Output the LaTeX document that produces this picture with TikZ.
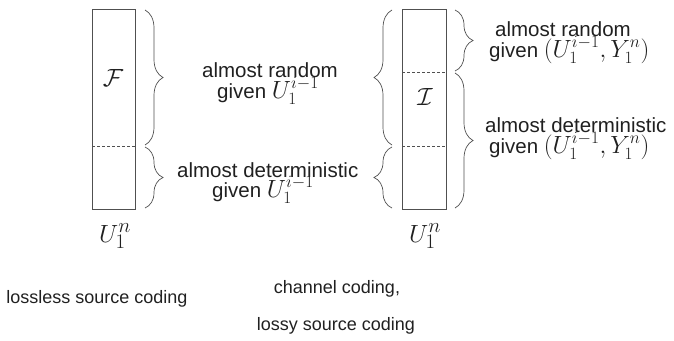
\documentclass[tikz,border=0pt]{standalone}
\usepackage{fontspec}
\setmainfont{Liberation Sans}
\usetikzlibrary{decorations.pathreplacing}
\definecolor{ln}{HTML}{505050}
\definecolor{tx}{HTML}{202020}
\newcommand\mth[1]{{\fontsize{25.5}{28}\selectfont$#1$}}
\tikzset{
  box/.style={draw=ln, line width=0.8pt},
  sep/.style={draw=ln, line width=0.6pt, dash pattern=on 3pt off 2pt},
  brc/.style={draw=ln, line width=0.7pt, decorate, decoration={brace, amplitude=18pt}},
  lbl/.style={anchor=base west, inner sep=0pt, text=tx, font=\fontsize{20.5}{24}\selectfont},
  blbl/.style={anchor=base, inner sep=0pt, text=tx, font=\fontsize{18}{22}\selectfont},
  big/.style={anchor=base, inner sep=0pt, text=tx, font=\fontsize{28}{32}\selectfont}
}
\begin{document}
\begin{tikzpicture}[x=1pt,y=-1pt]
\useasboundingbox (0,0) rectangle (674,340);
% left column
\draw[box] (92,9) rectangle (135,209);
\coordinate (la) at (92,146); \coordinate (lb) at (135,146);
\draw[sep] (la) -- (lb);
\node[big] (F) at (113,86) {$\mathcal{F}$};
\node[big] (U1) at (115,242) {$U_1^n$};
\coordinate (b1s) at (145,10); \coordinate (b1e) at (145,145);
\coordinate (b2s) at (145,147); \coordinate (b2e) at (145,208);
\draw[brc] (b1s) -- (b1e);
\draw[brc] (b2s) -- (b2e);
\node[lbl] (t1) at (202,77) {almost random};
\node[lbl] (t2) at (217,98) {given \mth{U_1^{i-1}}};
\node[lbl] (t3) at (177,177) {almost deterministic};
\node[lbl] (t4) at (212,197) {given \mth{U_1^{i-1}}};
% right column
\draw[box] (402,9) rectangle (446,209);
\coordinate (ra) at (402,72); \coordinate (rb) at (446,72);
\coordinate (rc) at (402,146); \coordinate (rd) at (446,146);
\draw[sep] (ra) -- (rb);
\draw[sep] (rc) -- (rd);
\node[big] (I) at (425,105) {$\mathcal{I}$};
\node[big] (U2) at (425,242) {$U_1^n$};
\coordinate (c1s) at (392,145); \coordinate (c1e) at (392,10);
\coordinate (c2s) at (392,208); \coordinate (c2e) at (392,147);
\draw[brc] (c1s) -- (c1e);
\draw[brc] (c2s) -- (c2e);
\coordinate (d1s) at (455,10); \coordinate (d1e) at (455,71);
\coordinate (d2s) at (455,73); \coordinate (d2e) at (455,208);
\draw[brc] (d1s) -- (d1e);
\draw[brc] (d2s) -- (d2e);
\node[lbl] (s1) at (495,36) {almost random};
\node[lbl] (s2) at (489,57) {given \mth{(U_1^{i-1},Y_1^n)}};
\node[lbl] (s3) at (485,132) {almost deterministic};
\node[lbl] (s4) at (489,153) {given \mth{(U_1^{i-1},Y_1^n)}};
% captions
\node[blbl] (c1) at (97,303) {lossless source coding};
\node[blbl] (c2) at (337,293) {channel coding,};
\node[blbl] (c3) at (336,330) {lossy source coding};
\end{tikzpicture}
\end{document}
